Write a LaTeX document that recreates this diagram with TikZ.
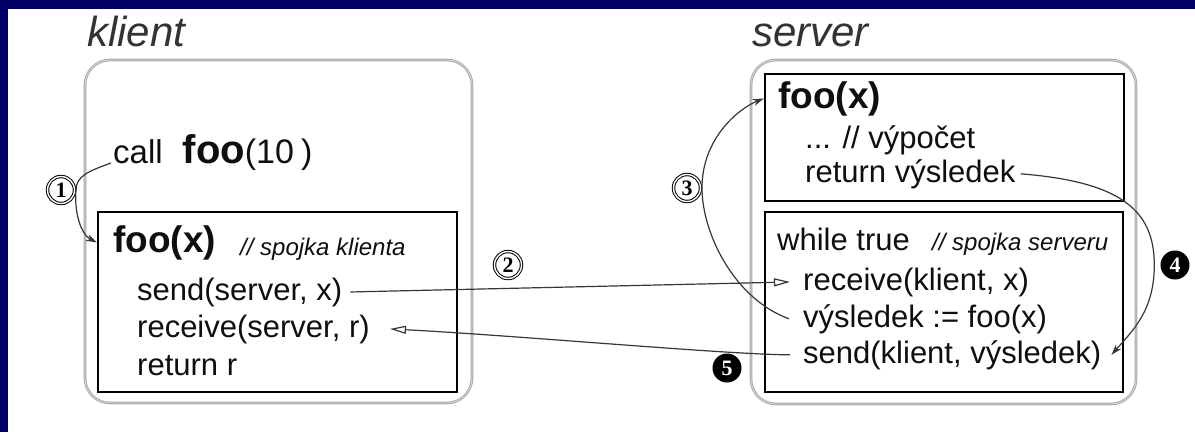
\documentclass[tikz,border=0pt]{standalone}
\usepackage{fontspec}
\setmainfont{Liberation Sans}
\newfontfamily\digitfont{Liberation Serif}
\usetikzlibrary{arrows.meta}
\definecolor{framenavy}{RGB}{0,0,102}
\definecolor{wire}{RGB}{55,55,55}
\definecolor{ink}{RGB}{15,15,15}

\begin{document}
\begin{tikzpicture}[x=1pt,y=-1pt,
  body/.style={anchor=base west, inner sep=0pt, text=ink, font=\fontsize{31}{37}\selectfont},
  head/.style={anchor=base west, inner sep=0pt, text=ink, font=\bfseries\fontsize{37}{40}\selectfont},
  note/.style={anchor=base west, inner sep=0pt, text=ink, font=\itshape\fontsize{24}{28}\selectfont},
  caption/.style={anchor=base west, inner sep=0pt, text=black!80, font=\itshape\fontsize{42}{46}\selectfont},
  hostbox/.style={draw=gray!70, double=gray!30, double distance=0.8pt, line width=0.9pt,
    rounded corners=25pt, inner sep=0pt},
  procbox/.style={draw=black, line width=2.3pt, inner sep=0pt},
  openarrow/.style={draw=wire, line width=1.2pt, -{Triangle[open, length=16pt, width=8pt]}},
  filledarrow/.style={draw=wire, line width=1.2pt, -{Stealth[length=11pt, width=7pt]}},
  markopen/.style={circle, draw=black, double=white, double distance=1.4pt, line width=1pt,
    minimum size=27pt, inner sep=0pt, fill=white, font=\digitfont\bfseries\fontsize{22}{22}\selectfont},
  markfill/.style={circle, fill=black, text=white, minimum size=29pt, inner sep=0pt,
    font=\digitfont\bfseries\fontsize{22}{22}\selectfont}
]
% canvas and slide frame
\useasboundingbox (0,0) rectangle (1195,432);
\fill[white] (0,0) rectangle (1195,432);
\fill[framenavy] (0,0) rectangle (1195,9);
\fill[framenavy] (0,0) rectangle (8,432);

% host machines
\node[hostbox, minimum width=387pt, minimum height=343pt] (khost) at (278.5,231.5) {};
\node[hostbox, minimum width=385pt, minimum height=344pt] (shost) at (943.5,232) {};
\node[caption] (kcap) at (87,46) {klient};
\node[caption] (scap) at (752,46) {server};

% procedure boxes
\node[procbox, minimum width=359pt, minimum height=180pt] (kproc) at (277.5,302) {};
\node[procbox, minimum width=359pt, minimum height=127pt] (sup) at (944.5,137.5) {};
\node[procbox, minimum width=358pt, minimum height=180pt] (slow) at (944,302) {};

% client side
\node[body] (call) at (113,163) {{\fontsize{33}{37}\selectfont call\hspace{20pt}}{\bfseries\fontsize{40}{40}\selectfont foo}{\fontsize{34}{37}\selectfont(10\hspace{7pt})}};
\node[head] (kfoo) at (113,252) {foo(x)};
\node[note] (knote) at (240,255) {// spojka klienta};
\node[body] (ksend) at (137,300) {send(server, x)};
\node[body] (krecv) at (137,337) {receive(server, r)};
\node[body] (kret) at (137,375) {return r};

% server side
\node[head] (sfoo) at (778,108) {foo(x)};
\node[body] (scomp) at (805,148) {... // výpočet};
\node[body] (sret) at (805,182) {return výsledek};
\node[body] (swhile) at (777,250) {while true};
\node[note] (snote) at (932,250) {// spojka serveru};
\node[body] (srecv) at (803,290) {receive(klient, x)};
\node[body] (svys) at (803,327) {výsledek := foo(x)};
\node[body] (ssend) at (803,363) {send(klient, výsledek)};

% step markers
\node[markopen] (c1) at (61,190) {1};
\node[markopen] (c2) at (508,265) {2};
\node[markopen] (c3) at (687,188) {3};
\node[markfill] (c4) at (1175,265) {4};
\node[markfill] (c5) at (727,368) {5};

% 1: local call enters the client stub
\draw[filledarrow] ([xshift=-2pt]call.base west) .. controls +(-22,8) and +(0,-14) .. ([xshift=1pt]c1.east)
  .. controls +(-2,22) and +(-16,-8) .. (kproc.west |- kfoo.west);
% 2: request message
\draw[openarrow] ([xshift=8pt]ksend.east) -- ([xshift=-13pt]srecv.west);
% 3: server stub calls the procedure
\draw[filledarrow] ([xshift=-14pt]svys.west) .. controls +(-55,-20) and +(0,45) .. ([xshift=1pt]c3.east)
  .. controls +(0,-50) and +(-25,10) .. (sup.west |- sfoo.west);
% 4: result returned to the stub
\draw[filledarrow] ([xshift=5pt]sret.east) .. controls +(100,8) and +(0,-55) .. ([xshift=-6pt]c4.west)
  .. controls +(0,45) and +(22,-25) .. ([xshift=10pt]ssend.east);
% 5: reply message
\draw[openarrow] ([xshift=-13pt]ssend.west) .. controls +(-60,0) and +(120,6) .. ([xshift=20pt]krecv.east);
\end{tikzpicture}
\end{document}
